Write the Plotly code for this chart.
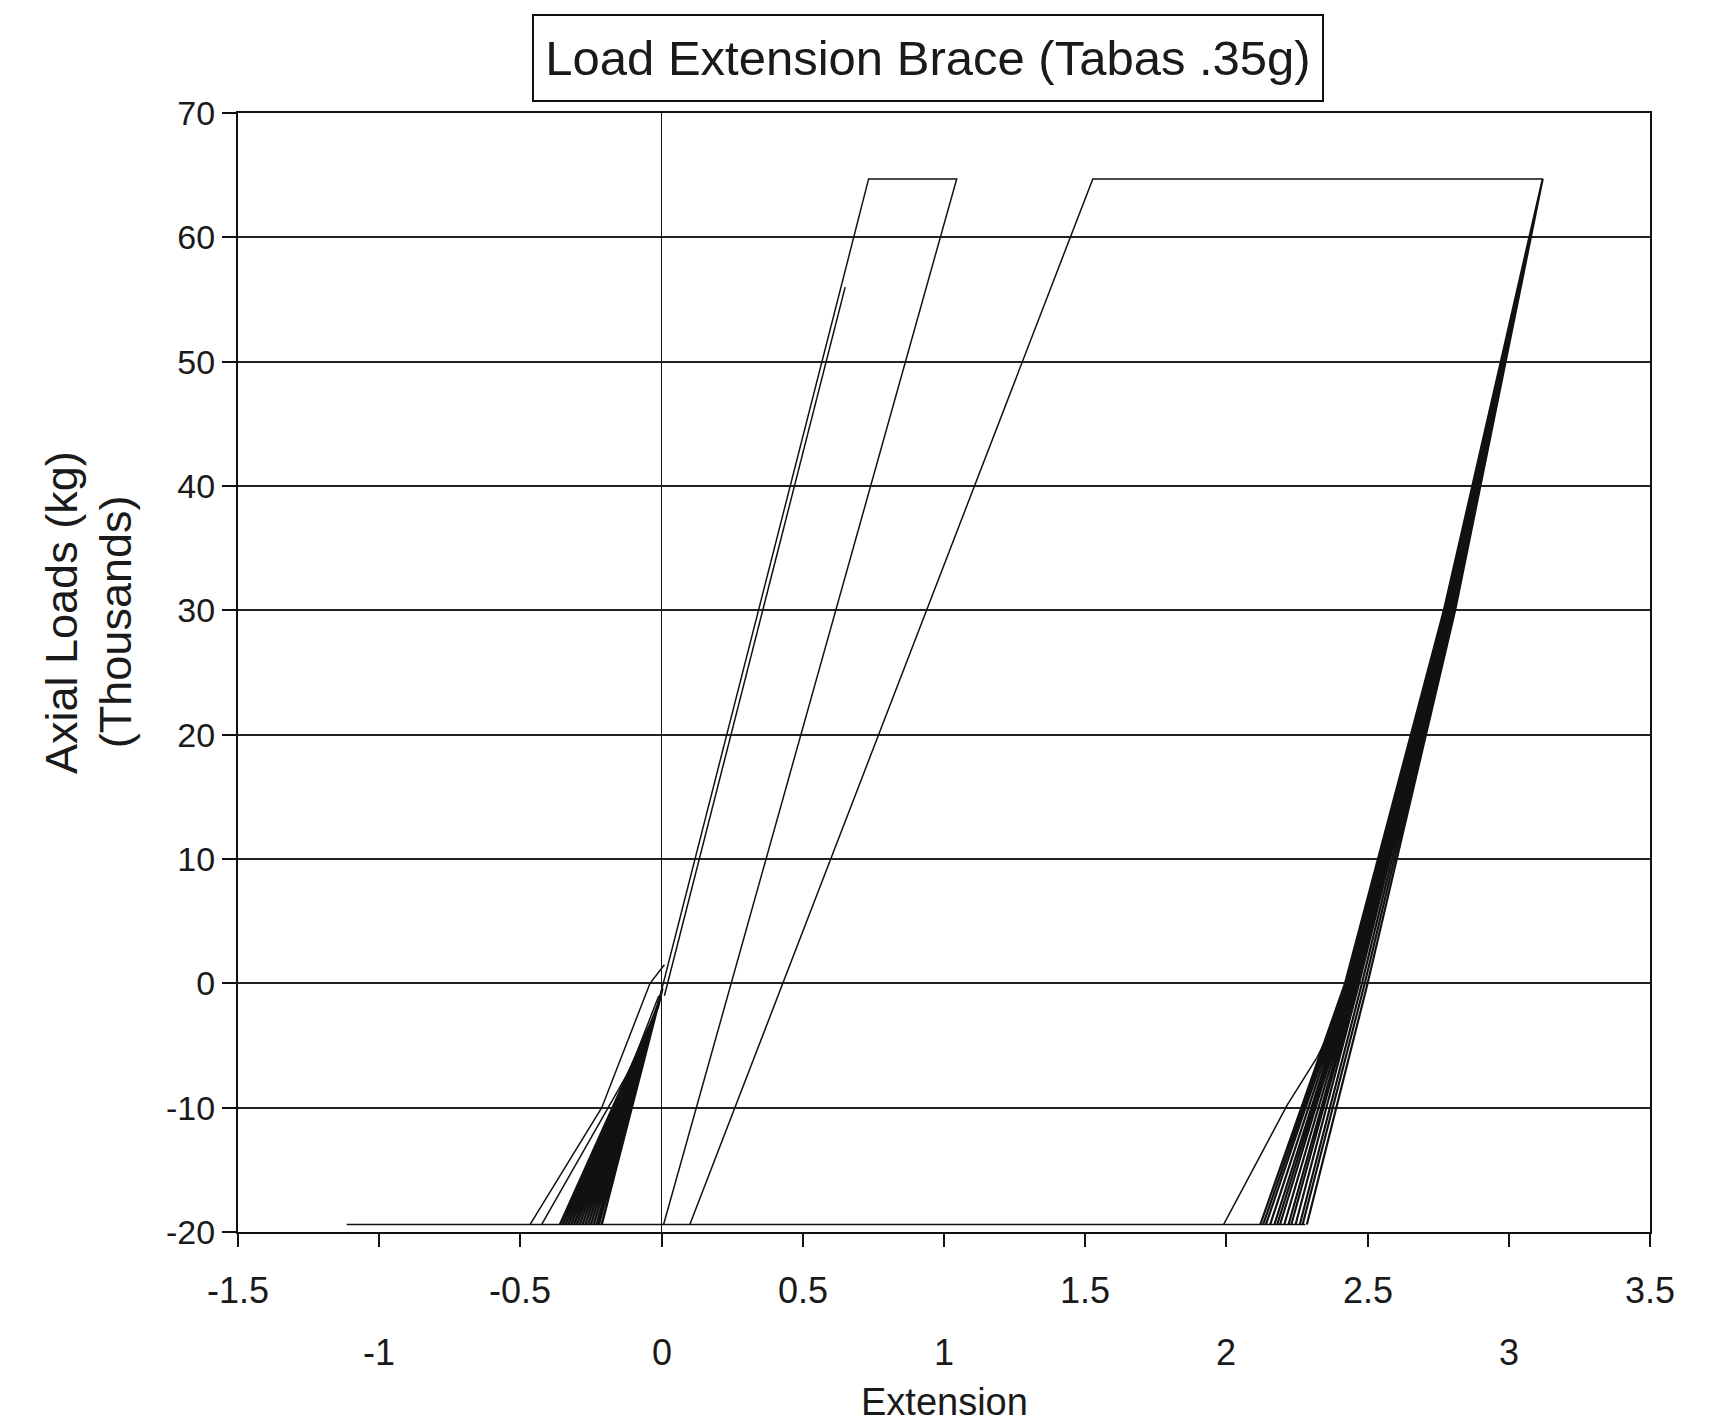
import plotly.graph_objects as go

# ---------------- data (extension, axial load in thousands of kg) ----------------
# first big loop: elastic loading, tension yield plateau, elastic unloading
loop1_x = [-0.212, 0.733, 1.045, 0.007]
loop1_y = [-19.4, 64.7, 64.7, -19.4]

# second big loop: soft reloading, long tension plateau
loop2_x = [0.10, 1.527, 3.12]
loop2_y = [-19.4, 64.7, 64.7]

# compression plateau along the bottom
plateau_x = [-1.115, 2.28]
plateau_y = [-19.4, -19.4]

# partial cycle that peaked near 56
partial_x = [0.65, 0.01]
partial_y = [56.0, -1.0]

# left cluster: outer and inner soft reloading lines
left_outer_x = [-0.466, -0.212, -0.041, 0.01]
left_outer_y = [-19.4, -10.0, 0.0, 1.5]
left_inner_x = [-0.425, -0.109, -0.01]
left_inner_y = [-19.4, -6.8, -1.0]

# left cluster dense wedge: bottom points and the apex points they return to
wedge_bottom_x = [-0.36, -0.35, -0.34, -0.33, -0.32, -0.31, -0.30, -0.29, -0.28,
                  -0.27, -0.26, -0.25, -0.24, -0.23, -0.222, -0.212]
wedge_apex_x = [-0.012, -0.011, -0.010, -0.009, -0.008, -0.007, -0.006, -0.005, -0.004,
                -0.003, -0.002, -0.001, 0.0, 0.001, 0.002, 0.003]
wedge_apex_y = [-1.9, -1.8, -1.7, -1.6, -1.5, -1.4, -1.3, -1.2, -1.1,
                -1.0, -0.9, -0.8, -0.7, -0.6, -0.5, -0.4]
wedge_bottom_y = -19.4

# right cluster: outer soft reloading line
right_outer_x = [1.99, 2.215, 2.32, 2.41, 2.46]
right_outer_y = [-19.4, -9.8, -6.0, -2.0, 1.0]

# right cluster dense band down from the tension corner
band_top = (3.12, 64.7)
band_thirty_x = [2.77, 2.772, 2.775, 2.778, 2.78, 2.783, 2.786, 2.788, 2.79, 2.792, 2.795, 2.80, 2.805, 2.81]
band_zero_x = [2.42, 2.425, 2.43, 2.435, 2.44, 2.445, 2.45, 2.455, 2.46, 2.465, 2.47, 2.48, 2.49, 2.50]
band_bottom_x = [2.12, 2.13, 2.14, 2.155, 2.17, 2.18, 2.19, 2.205, 2.22, 2.23, 2.245, 2.26, 2.27, 2.285]

# axis ticks / labels
y_ticks = [-20, -10, 0, 10, 20, 30, 40, 50, 60, 70]
x_ticks = [-1.5, -1.0, -0.5, 0.0, 0.5, 1.0, 1.5, 2.0, 2.5, 3.0, 3.5]
x_labels_upper_vals = [-1.5, -0.5, 0.5, 1.5, 2.5, 3.5]
x_labels_upper = ["-1.5", "-0.5", "0.5", "1.5", "2.5", "3.5"]
x_labels_lower_vals = [-1, 0, 1, 2, 3]
x_labels_lower = ["-1", "0", "1", "2", "3"]

title_text = "Load Extension Brace (Tabas .35g)"
y_title_1 = "Axial Loads (kg)"
y_title_2 = "(Thousands)"
x_title = "Extension"

# ---------------- build figure ----------------
FONT = "Liberation Sans, Arial, sans-serif"
INK = "#111111"
TEXT = "#1a1a1a"

fig = go.Figure()


def add_line(x, y, width=1.5):
    fig.add_trace(go.Scatter(x=x, y=y, mode="lines",
                             line=dict(color=INK, width=width),
                             showlegend=False, hoverinfo="skip"))


add_line(plateau_x, plateau_y)
add_line(loop1_x, loop1_y)
add_line(loop2_x, loop2_y)
add_line(partial_x, partial_y)
add_line(left_outer_x, left_outer_y)
add_line(left_inner_x, left_inner_y)

wx, wy = [], []
for bx, ax, ay in zip(wedge_bottom_x, wedge_apex_x, wedge_apex_y):
    wx += [ax, bx]
    wy += [ay, wedge_bottom_y]
add_line(wx, wy, width=2.4)

add_line(right_outer_x, right_outer_y)

bx_all, by_all = [], []
for x30, x0, xb in zip(band_thirty_x, band_zero_x, band_bottom_x):
    bx_all += [band_top[0], x30, x0, xb, x0, x30]
    by_all += [band_top[1], 30, 0, -19.4, 0, 30]
bx_all.append(band_top[0])
by_all.append(band_top[1])
add_line(bx_all, by_all, width=2.2)

annotations = []
# title in a box
annotations.append(dict(text=title_text, xref="paper", yref="paper",
                        x=0.4887, y=1.049, xanchor="center", yanchor="middle",
                        showarrow=False, font=dict(family=FONT, size=49, color=TEXT),
                        bordercolor=INK, borderwidth=2, borderpad=4,
                        width=780, height=76, bgcolor="white"))
# y-axis title (two lines)
annotations.append(dict(text=y_title_1, xref="paper", yref="paper", x=-0.1254, y=0.554,
                        xanchor="center", yanchor="middle", textangle=-90, showarrow=False,
                        font=dict(family=FONT, size=45, color=TEXT)))
annotations.append(dict(text=y_title_2, xref="paper", yref="paper", x=-0.0871, y=0.545,
                        xanchor="center", yanchor="middle", textangle=-90, showarrow=False,
                        font=dict(family=FONT, size=45, color=TEXT)))
# staggered x tick labels
for v, t in zip(x_labels_upper_vals, x_labels_upper):
    annotations.append(dict(text=t, xref="x", yref="paper", x=v, y=-0.0527,
                            xanchor="center", yanchor="middle", showarrow=False,
                            font=dict(family=FONT, size=36, color=TEXT)))
for v, t in zip(x_labels_lower_vals, x_labels_lower):
    annotations.append(dict(text=t, xref="x", yref="paper", x=v, y=-0.108,
                            xanchor="center", yanchor="middle", showarrow=False,
                            font=dict(family=FONT, size=36, color=TEXT)))
annotations.append(dict(text=x_title, xref="paper", yref="paper", x=0.5, y=-0.152,
                        xanchor="center", yanchor="middle", showarrow=False,
                        font=dict(family=FONT, size=38, color=TEXT)))

fig.update_layout(
    width=1711, height=1428,
    margin=dict(l=238, r=61, t=113, b=196),
    paper_bgcolor="white", plot_bgcolor="white",
    showlegend=False,
    annotations=annotations,
    font=dict(family=FONT, color=TEXT),
)
fig.update_xaxes(range=[-1.5, 3.5], tickvals=x_ticks, showticklabels=False,
                 ticks="outside", ticklen=13, tickwidth=1.5, tickcolor=INK,
                 showgrid=False, zeroline=True, zerolinecolor=INK, zerolinewidth=1.4,
                 showline=True, linecolor=INK, linewidth=2, mirror=True)
fig.update_yaxes(range=[-20, 70], tickvals=y_ticks, ticktext=[str(v) for v in y_ticks],
                 ticks="outside", ticklen=14, tickwidth=1.5, tickcolor=INK,
                 tickfont=dict(family=FONT, size=34, color=TEXT),
                 showgrid=True, gridcolor="#222222", gridwidth=2, zeroline=False,
                 showline=True, linecolor=INK, linewidth=2, mirror=True)

fig.write_html("out.html")
